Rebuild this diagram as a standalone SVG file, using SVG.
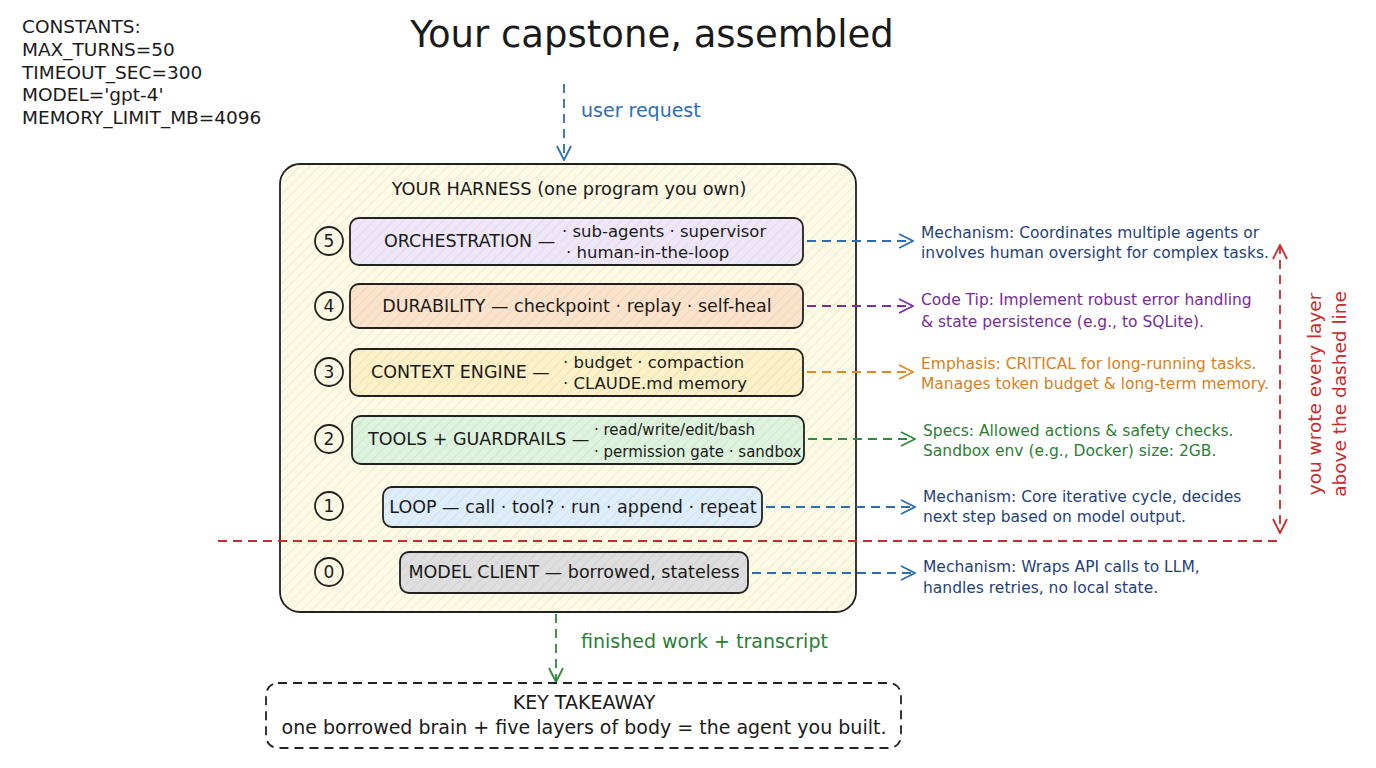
<svg xmlns="http://www.w3.org/2000/svg" width="1376" height="768" viewBox="0 0 1376 768">
<defs>
<style>
text{font-family:"DejaVu Sans","Liberation Sans",Arial,sans-serif;fill:#1a1a1a}
.title{font-size:37px}
.const{font-size:18.5px}
.hdr{font-size:17.8px}
.lbl{font-size:17.5px}
.sub{font-size:16.5px}
.sub2{font-size:15px}
.num{font-size:17px;text-anchor:middle}
.note{font-size:15.5px}
.flow{font-size:19px}
.box{stroke:#222;stroke-width:1.8}
.circ{fill:none;stroke:#222;stroke-width:1.8}
.dash{fill:none;stroke-width:1.8;stroke-dasharray:9 6}
.blue{stroke:#2d6db3}.purple{stroke:#7d2f9e}.orange{stroke:#e08a1e}.green{stroke:#2e8b3a}.red{stroke:#cc2b2b}
.tblue{fill:#1f3f7a}.tpurple{fill:#7a2a9a}.torange{fill:#d9801c}.tgreen{fill:#2a7f33}.tred{fill:#c92a2a}.tlblue{fill:#2d6db3}
</style>
<pattern id="hatch" width="7" height="7" patternUnits="userSpaceOnUse" patternTransform="rotate(45)">
<line x1="0" y1="0" x2="0" y2="7" stroke="#000" stroke-opacity="0.05" stroke-width="2"/>
</pattern>
<marker id="mBlue" viewBox="0 0 16 16" refX="15" refY="8" markerWidth="16" markerHeight="16" markerUnits="userSpaceOnUse" orient="auto"><path d="M1,1 L15,8 L1,15" fill="none" stroke="#2d6db3" stroke-width="1.8"/></marker>
<marker id="mPurple" viewBox="0 0 16 16" refX="15" refY="8" markerWidth="16" markerHeight="16" markerUnits="userSpaceOnUse" orient="auto"><path d="M1,1 L15,8 L1,15" fill="none" stroke="#7d2f9e" stroke-width="1.8"/></marker>
<marker id="mOrange" viewBox="0 0 16 16" refX="15" refY="8" markerWidth="16" markerHeight="16" markerUnits="userSpaceOnUse" orient="auto"><path d="M1,1 L15,8 L1,15" fill="none" stroke="#e08a1e" stroke-width="1.8"/></marker>
<marker id="mGreen" viewBox="0 0 16 16" refX="15" refY="8" markerWidth="16" markerHeight="16" markerUnits="userSpaceOnUse" orient="auto"><path d="M1,1 L15,8 L1,15" fill="none" stroke="#2e8b3a" stroke-width="1.8"/></marker>
<marker id="mRed" viewBox="0 0 16 16" refX="15" refY="8" markerWidth="16" markerHeight="16" markerUnits="userSpaceOnUse" orient="auto-start-reverse"><path d="M1,1 L15,8 L1,15" fill="none" stroke="#cc2b2b" stroke-width="1.8"/></marker>
</defs>
<rect width="1376" height="768" fill="#ffffff"/>

<text class="title" x="652" y="47" text-anchor="middle">Your capstone, assembled</text>

<g id="constants">
<text class="const" x="22" y="33">CONSTANTS:</text>
<text class="const" x="22" y="56">MAX_TURNS=50</text>
<text class="const" x="22" y="79">TIMEOUT_SEC=300</text>
<text class="const" x="22" y="101">MODEL='gpt-4'</text>
<text class="const" x="22" y="124">MEMORY_LIMIT_MB=4096</text>
</g>

<g id="harness">
<rect x="280" y="164" width="576" height="448" rx="20" fill="#fcf9e4" class="box" stroke-width="2"/>
<rect x="280" y="164" width="576" height="448" rx="20" fill="url(#hatch)"/>
<text class="hdr" x="569" y="195" text-anchor="middle">YOUR HARNESS (one program you own)</text>
</g>

<g id="connectors">
<line class="dash blue" x1="564" y1="84" x2="564" y2="160" marker-end="url(#mBlue)"/>
<line class="dash green" x1="556" y1="614" x2="556" y2="682" marker-end="url(#mGreen)"/>
<line class="dash blue" x1="807" y1="241" x2="913" y2="241" marker-end="url(#mBlue)"/>
<line class="dash purple" x1="807" y1="306" x2="913" y2="306" marker-end="url(#mPurple)"/>
<line class="dash orange" x1="807" y1="372" x2="913" y2="372" marker-end="url(#mOrange)"/>
<line class="dash green" x1="808" y1="439" x2="915" y2="439" marker-end="url(#mGreen)"/>
<line class="dash blue" x1="766" y1="507" x2="915" y2="507" marker-end="url(#mBlue)"/>
<line class="dash blue" x1="752" y1="573" x2="915" y2="573" marker-end="url(#mBlue)"/>
<line class="dash red" x1="218" y1="541" x2="1280" y2="541"/>
<line class="dash red" x1="1280" y1="245" x2="1280" y2="533" marker-start="url(#mRed)" marker-end="url(#mRed)"/>
<text class="flow tlblue" x="581" y="117">user request</text>
<text class="flow tgreen" x="581" y="648">finished work + transcript</text>
</g>

<g id="layer5">
<circle class="circ" cx="329" cy="241" r="14"/>
<text class="num" x="329" y="247">5</text>
<rect x="350" y="218" width="453" height="47" rx="9" fill="#efe7f8" class="box"/>
<rect x="350" y="218" width="453" height="47" rx="9" fill="url(#hatch)"/>
<text class="lbl" x="384" y="247">ORCHESTRATION —</text>
<text class="sub" x="562" y="237">· sub-agents · supervisor</text>
<text class="sub" x="566" y="258">· human-in-the-loop</text>
</g>

<g id="layer4">
<circle class="circ" cx="329" cy="306" r="14"/>
<text class="num" x="329" y="312">4</text>
<rect x="350" y="284" width="453" height="44" rx="9" fill="#fbe2cb" class="box"/>
<rect x="350" y="284" width="453" height="44" rx="9" fill="url(#hatch)"/>
<text class="lbl" x="577" y="312" text-anchor="middle">DURABILITY — checkpoint · replay · self-heal</text>
</g>

<g id="layer3">
<circle class="circ" cx="329" cy="372" r="14"/>
<text class="num" x="329" y="378">3</text>
<rect x="350" y="349" width="453" height="47" rx="9" fill="#fcf0c6" class="box"/>
<rect x="350" y="349" width="453" height="47" rx="9" fill="url(#hatch)"/>
<text class="lbl" x="371" y="378">CONTEXT ENGINE —</text>
<text class="sub" x="563" y="368">· budget · compaction</text>
<text class="sub" x="563" y="389">· CLAUDE.md memory</text>
</g>

<g id="layer2">
<circle class="circ" cx="329" cy="439" r="14"/>
<text class="num" x="329" y="445">2</text>
<rect x="352" y="416" width="452" height="48" rx="9" fill="#ddf3dd" class="box"/>
<rect x="352" y="416" width="452" height="48" rx="9" fill="url(#hatch)"/>
<text class="lbl" x="368" y="445">TOOLS + GUARDRAILS —</text>
<text class="sub2" x="594" y="435">· read/write/edit/bash</text>
<text class="sub2" x="594" y="457">· permission gate · sandbox</text>
</g>

<g id="layer1">
<circle class="circ" cx="329" cy="506" r="14"/>
<text class="num" x="329" y="512">1</text>
<rect x="383" y="487" width="379" height="40" rx="9" fill="#ddeefa" class="box"/>
<rect x="383" y="487" width="379" height="40" rx="9" fill="url(#hatch)"/>
<text class="lbl" x="573" y="513" text-anchor="middle">LOOP — call · tool? · run · append · repeat</text>
</g>

<g id="layer0">
<circle class="circ" cx="329" cy="572" r="14"/>
<text class="num" x="329" y="578">0</text>
<rect x="400" y="552" width="348" height="41" rx="9" fill="#dedede" class="box"/>
<rect x="400" y="552" width="348" height="41" rx="9" fill="url(#hatch)"/>
<text class="lbl" x="574" y="578" text-anchor="middle">MODEL CLIENT — borrowed, stateless</text>
</g>

<g id="notes">
<text class="note tblue" x="921" y="238">Mechanism: Coordinates multiple agents or</text>
<text class="note tblue" x="921" y="258">involves human oversight for complex tasks.</text>
<text class="note tpurple" x="921" y="305">Code Tip: Implement robust error handling</text>
<text class="note tpurple" x="921" y="327">&amp; state persistence (e.g., to SQLite).</text>
<text class="note torange" x="921" y="369">Emphasis: CRITICAL for long-running tasks.</text>
<text class="note torange" x="921" y="389">Manages token budget &amp; long-term memory.</text>
<text class="note tgreen" x="923" y="436">Specs: Allowed actions &amp; safety checks.</text>
<text class="note tgreen" x="923" y="456">Sandbox env (e.g., Docker) size: 2GB.</text>
<text class="note tblue" x="923" y="502">Mechanism: Core iterative cycle, decides</text>
<text class="note tblue" x="923" y="522">next step based on model output.</text>
<text class="note tblue" x="923" y="572">Mechanism: Wraps API calls to LLM,</text>
<text class="note tblue" x="923" y="593">handles retries, no local state.</text>
</g>

<g id="side-note">
<text class="tred" transform="translate(1321,394) rotate(-90)" text-anchor="middle" style="font-size:18.5px">you wrote every layer</text>
<text class="tred" transform="translate(1346,394) rotate(-90)" text-anchor="middle" style="font-size:18.5px">above the dashed line</text>
</g>

<g id="takeaway">
<rect x="266" y="683" width="635" height="65" rx="12" fill="#ffffff" stroke="#222" stroke-width="1.8" stroke-dasharray="9 6"/>
<text x="584" y="709" text-anchor="middle" style="font-size:19px">KEY TAKEAWAY</text>
<text x="584" y="734" text-anchor="middle" style="font-size:19px">one borrowed brain + five layers of body = the agent you built.</text>
</g>
</svg>
